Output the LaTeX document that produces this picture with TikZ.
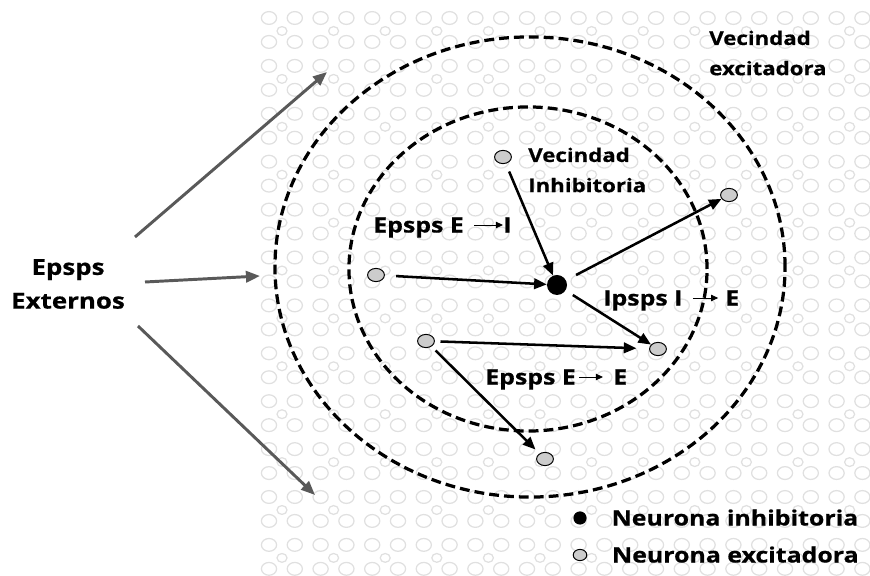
\documentclass[tikz,border=0pt]{standalone}
\usepackage{fontspec}
\setmainfont{Open Sans}[FakeStretch=1.18, BoldFeatures={FakeBold=0.6}]
\usetikzlibrary{arrows.meta,shapes.geometric,positioning}

\tikzset{
  bubble/.style={draw=black!12, line width=0.9pt},
  zone/.style={draw, line width=2.3pt, dash pattern=on 7pt off 3.6pt},
  exc/.style={ellipse, draw, fill=black!20, line width=0.7pt, minimum width=0.42cm, minimum height=0.33cm, inner sep=0pt},
  inh/.style={circle, fill=black, minimum size=0.5cm, inner sep=0pt},
  syn/.style={line width=1.8pt, -{Triangle[length=9pt,width=7.5pt]}},
  ext/.style={draw=black!65, line width=2.1pt, -{Triangle[length=10pt,width=8pt]}},
  tiny/.style={line width=0.6pt, -{Triangle[length=5pt,width=4.5pt]}},
  lbl/.style={font=\bfseries\fontsize{15}{18}\selectfont, inner sep=0pt, text height=10.7pt, text depth=0pt},
  blk/.style={font=\bfseries\fontsize{13.4}{21.5}\selectfont, inner sep=0pt, align=left}
}

\begin{document}
\begin{tikzpicture}[x=0.025cm, y=-0.025cm]
\useasboundingbox (0,0) rectangle (870,576);

% dotted backdrop
\begin{scope}
\clip (0,0) rectangle (870,576);
\foreach \i in {0,...,23}
  \foreach \j in {0,...,23}
    \draw[bubble] (269+25.8*\i, 18+23.95*\j) ellipse [x radius=0.19cm, y radius=0.16cm];
\foreach \i in {0,...,11}
  \foreach \j in {0,...,11}
    \draw[bubble] (282+51.6*\i, 31+47.9*\j) ellipse [x radius=0.125cm, y radius=0.11cm];
\end{scope}

% neighbourhoods
\draw[zone] (530,267) ellipse [x radius=6.375cm, y radius=5.75cm];
\draw[zone] (528,269) ellipse [x radius=4.475cm, y radius=4.05cm];

% neurons
\node[inh] (i0) at (557,285) {};
\node[exc] (e1) at (503,157) {};
\node[exc] (e2) at (376,275) {};
\node[exc] (e3) at (729,195) {};
\node[exc] (e4) at (426,341) {};
\node[exc] (e5) at (658,349) {};
\node[exc] (e6) at (545,459) {};

\draw[syn, shorten <=6pt] (e1) -- (i0);
\draw[syn, shorten <=8pt] (e2) -- (i0);
\draw[syn, shorten <=8pt] (i0) -- (e3);
\draw[syn, shorten <=6pt] (i0) -- (e5);
\draw[syn, shorten <=4pt, shorten >=9pt] (e4) -- (e5);
\draw[syn, shorten <=4pt, shorten >=4pt] (e4) -- (e6);

% external input
\node[blk, align=center, font=\bfseries\fontsize{15.6}{24}\selectfont] (epext) at (68,284) {Epsps\\Externos};
\coordinate (x1) at (135,237);
\coordinate (x1e) at (327,72);
\coordinate (x2) at (145,282);
\coordinate (x2e) at (260,276);
\coordinate (x3) at (138,326);
\coordinate (x3e) at (315,495);
\draw[ext] (x1) -- (x1e);
\draw[ext] (x2) -- (x2e);
\draw[ext] (x3) -- (x3e);

% labels
\node[blk, anchor=west] (vexc) at (709,53) {Vecindad\\excitadora};
\node[blk, anchor=west] (vinh) at (528,170) {Vecindad\\Inhibitoria};

\node[lbl, anchor=west] (lei) at (373,225) {Epsps E};
\node[lbl, anchor=west] (lei2) at (503,225) {I};
\draw[tiny, shorten <=0.25cm] (lei) -- (lei2);

\node[lbl, anchor=west] (lie) at (603,298) {Ipsps I};
\node[lbl, anchor=west] (lie2) at (725,298) {E};
\draw[tiny, shorten <=0.25cm, shorten >=0.17cm] (lie) -- (lie2);

\node[lbl, anchor=west] (lee) at (485,377) {Epsps E};
\node[lbl, anchor=west] (lee2) at (613,377) {E};
\draw[tiny, shorten <=0.08cm, shorten >=0.25cm] (lee) -- (lee2);

% key
\node[inh, minimum size=0.33cm] (keyinh) at (580,518) {};
\node[exc, minimum width=0.34cm, minimum height=0.28cm] (keyexc) at (580,555) {};
\node[lbl, right=0.61cm of keyinh] (tinh) {Neurona inhibitoria};
\node[lbl, right=0.61cm of keyexc] (texc) {Neurona excitadora};

\end{tikzpicture}
\end{document}
